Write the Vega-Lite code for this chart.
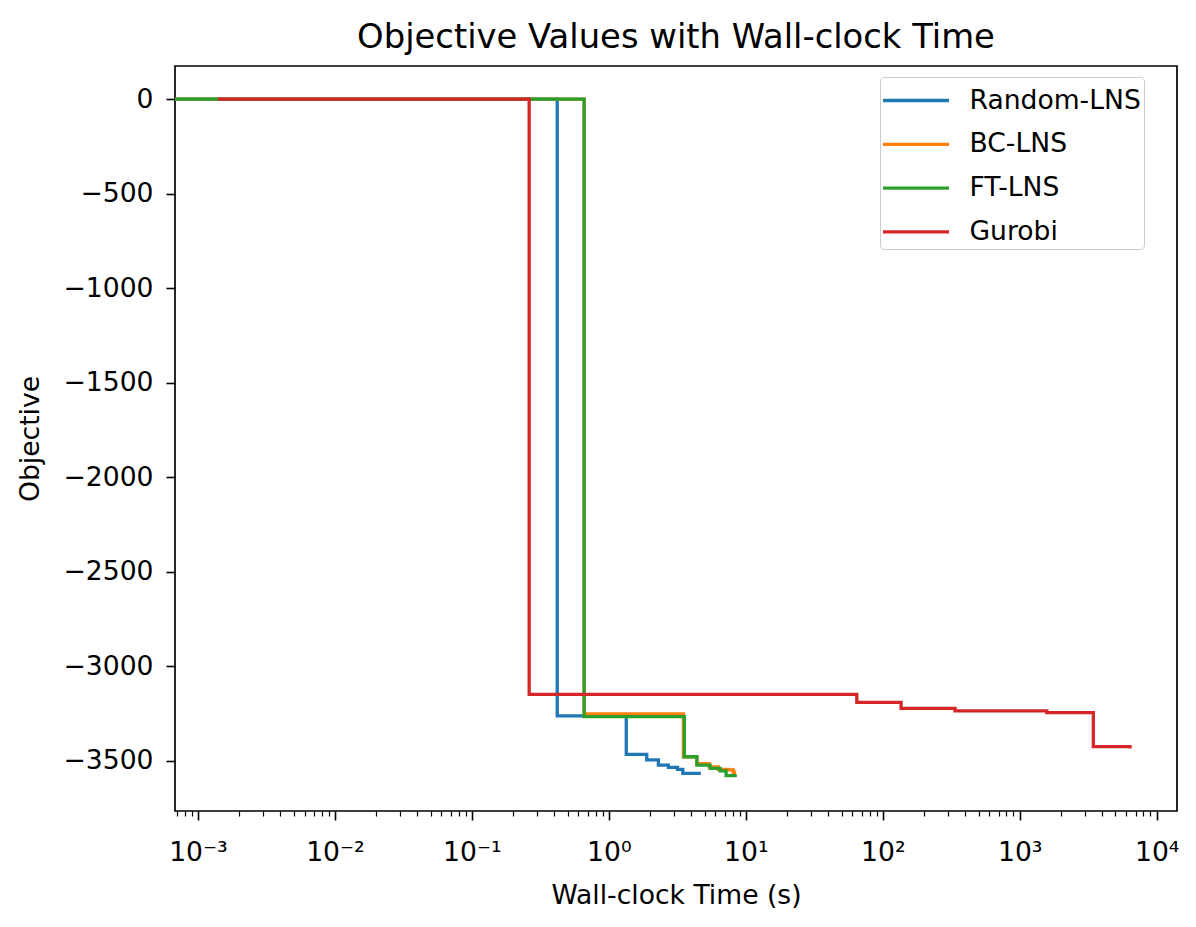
{
  "$schema": "https://vega.github.io/schema/vega-lite/v6.json",
  "autosize": "none",
  "width": 1002,
  "height": 745,
  "padding": {"left": 175, "top": 66, "right": 19, "bottom": 116},
  "background": "white",
  "title": {
    "text": "Objective Values with Wall-clock Time",
    "font": "DejaVu Sans",
    "fontSize": 33.8,
    "fontWeight": "normal",
    "color": "black",
    "anchor": "middle",
    "offset": 11
  },
  "config": {
    "view": {"stroke": "black", "strokeWidth": 1.7},
    "axis": {
      "domain": false,
      "grid": false,
      "tickColor": "black",
      "tickWidth": 1.6,
      "tickSize": 9,
      "labelFont": "DejaVu Sans",
      "labelFontSize": 26.6,
      "labelColor": "black",
      "titleFont": "DejaVu Sans",
      "titleFontSize": 26.6,
      "titleFontWeight": "normal",
      "titleColor": "black"
    }
  },
  "data": {
    "values": [
      {"method": "Random-LNS", "t": 0.00068, "obj": 0},
      {"method": "Random-LNS", "t": 0.42, "obj": -3262},
      {"method": "Random-LNS", "t": 1.34, "obj": -3466},
      {"method": "Random-LNS", "t": 1.89, "obj": -3495},
      {"method": "Random-LNS", "t": 2.3, "obj": -3522},
      {"method": "Random-LNS", "t": 2.72, "obj": -3534},
      {"method": "Random-LNS", "t": 3.17, "obj": -3545},
      {"method": "Random-LNS", "t": 3.47, "obj": -3566},
      {"method": "Random-LNS", "t": 4.7, "obj": -3566},
      {"method": "BC-LNS", "t": 0.00068, "obj": 0},
      {"method": "BC-LNS", "t": 0.66, "obj": -3252},
      {"method": "BC-LNS", "t": 3.5, "obj": -3478},
      {"method": "BC-LNS", "t": 4.4, "obj": -3515},
      {"method": "BC-LNS", "t": 5.4, "obj": -3532},
      {"method": "BC-LNS", "t": 6.3, "obj": -3545},
      {"method": "BC-LNS", "t": 7.4, "obj": -3548},
      {"method": "BC-LNS", "t": 8.1, "obj": -3560},
      {"method": "BC-LNS", "t": 8.5, "obj": -3560},
      {"method": "FT-LNS", "t": 0.00068, "obj": 0},
      {"method": "FT-LNS", "t": 0.66, "obj": -3266},
      {"method": "FT-LNS", "t": 3.56, "obj": -3478},
      {"method": "FT-LNS", "t": 4.39, "obj": -3522},
      {"method": "FT-LNS", "t": 5.49, "obj": -3540},
      {"method": "FT-LNS", "t": 6.49, "obj": -3553},
      {"method": "FT-LNS", "t": 7.18, "obj": -3578},
      {"method": "FT-LNS", "t": 8.6, "obj": -3578},
      {"method": "Gurobi", "t": 0.0014, "obj": 0},
      {"method": "Gurobi", "t": 0.262, "obj": -3148},
      {"method": "Gurobi", "t": 64.6, "obj": -3190},
      {"method": "Gurobi", "t": 136, "obj": -3222},
      {"method": "Gurobi", "t": 337, "obj": -3236},
      {"method": "Gurobi", "t": 1574, "obj": -3245},
      {"method": "Gurobi", "t": 3444, "obj": -3425},
      {"method": "Gurobi", "t": 6383, "obj": -3434}
    ]
  },
  "encoding": {
    "x": {
      "field": "t",
      "type": "quantitative",
      "title": "Wall-clock Time (s)",
      "scale": {"type": "log", "domain": [0.00068, 14060], "nice": false},
      "axis": {
        "values": [0.0007, 0.0008, 0.0009,
          0.001, 0.002, 0.003, 0.004, 0.005, 0.006, 0.007, 0.008, 0.009,
          0.01, 0.02, 0.03, 0.04, 0.05, 0.06, 0.07, 0.08, 0.09,
          0.1, 0.2, 0.3, 0.4, 0.5, 0.6, 0.7, 0.8, 0.9,
          1, 2, 3, 4, 5, 6, 7, 8, 9,
          10, 20, 30, 40, 50, 60, 70, 80, 90,
          100, 200, 300, 400, 500, 600, 700, 800, 900,
          1000, 2000, 3000, 4000, 5000, 6000, 7000, 8000, 9000,
          10000],
        "labelExpr": "abs(log(datum.value)/LN10 - round(log(datum.value)/LN10)) > 0.001 ? '' : '10' + (datum.value < 0.0015 ? '⁻³' : datum.value < 0.015 ? '⁻²' : datum.value < 0.15 ? '⁻¹' : datum.value < 1.5 ? '⁰' : datum.value < 15 ? '¹' : datum.value < 150 ? '²' : datum.value < 1500 ? '³' : '⁴')",
        "tickSize": {"condition": {"test": "abs(log(datum.value)/LN10 - round(log(datum.value)/LN10)) < 0.001", "value": 9}, "value": 5},
        "tickWidth": {"condition": {"test": "abs(log(datum.value)/LN10 - round(log(datum.value)/LN10)) < 0.001", "value": 1.6}, "value": 1.2},
        "labelPadding": 19,
        "labelOverlap": false,
        "labelFlush": false,
        "titlePadding": 17
      }
    },
    "y": {
      "field": "obj",
      "type": "quantitative",
      "title": "Objective",
      "scale": {"domain": [-3765, 175], "nice": false, "zero": false},
      "axis": {
        "values": [0, -500, -1000, -1500, -2000, -2500, -3000, -3500],
        "format": "d",
        "labelPadding": 13,
        "titlePadding": 19
      }
    },
    "color": {
      "field": "method",
      "type": "nominal",
      "scale": {
        "domain": ["Random-LNS", "BC-LNS", "FT-LNS", "Gurobi"],
        "range": ["#1f77b4", "#ff7f0e", "#2ca02c", "#d62728"]
      },
      "legend": {
        "title": null,
        "orient": "none",
        "legendX": 705,
        "legendY": 11,
        "symbolType": "M-1.784,0H1.784",
        "symbolSize": 1369,
        "symbolOffset": 12.5,
        "symbolStrokeWidth": 3.3,
        "labelFont": "DejaVu Sans",
        "labelFontSize": 26.6,
        "labelColor": "black",
        "labelLimit": 400,
        "labelOffset": 33,
        "rowPadding": 8.8,
        "padding": 3,
        "strokeColor": "#cccccc",
        "fillColor": "white",
        "cornerRadius": 4
      }
    }
  },
  "layer": [
    {"transform": [{"filter": "datum.method == 'Random-LNS'"}], "mark": {"type": "line", "interpolate": "step-after", "strokeWidth": 3.3, "clip": true}},
    {"transform": [{"filter": "datum.method == 'BC-LNS'"}], "mark": {"type": "line", "interpolate": "step-after", "strokeWidth": 3.3, "clip": true}},
    {"transform": [{"filter": "datum.method == 'FT-LNS'"}], "mark": {"type": "line", "interpolate": "step-after", "strokeWidth": 3.3, "clip": true}},
    {"transform": [{"filter": "datum.method == 'Gurobi'"}], "mark": {"type": "line", "interpolate": "step-after", "strokeWidth": 3.3, "clip": true}}
  ]
}
